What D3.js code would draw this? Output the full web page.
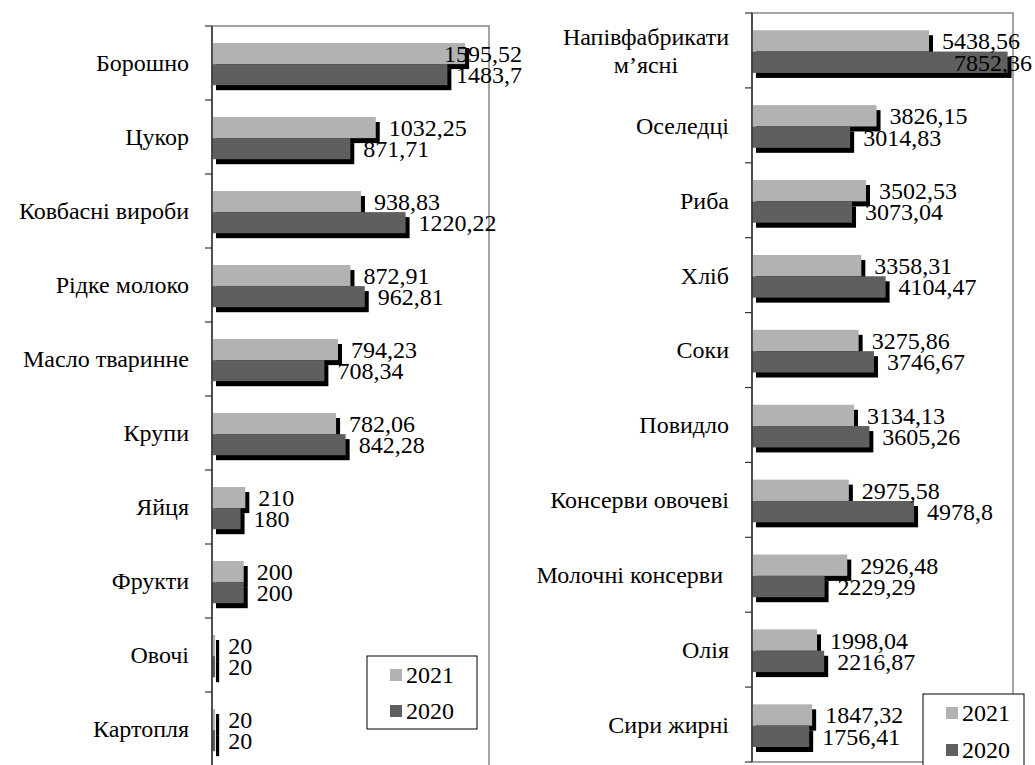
<!DOCTYPE html>
<html>
<head>
<meta charset="utf-8">
<script src="https://cdn.jsdelivr.net/npm/d3@7"></script>
<style>
  body { margin: 0; background: #fff; }
  svg text { font-family: Liberation Serif; }
</style>
</head>
<body>
<div id="app"></div>
<script>
// data
const years = ['2021', '2020']

const leftCats = ['Борошно', 'Цукор', 'Ковбасні вироби', 'Рідке молоко', 'Масло тваринне',
  'Крупи', 'Яйця', 'Фрукти', 'Овочі', 'Картопля']
const left2021 = [1595.52, 1032.25, 938.83, 872.91, 794.23, 782.06, 210, 200, 20, 20]
const left2020 = [1483.7, 871.71, 1220.22, 962.81, 708.34, 842.28, 180, 200, 20, 20]

const rightCats = ['Напівфабрикати\nм’ясні', 'Оселедці', 'Риба', 'Хліб', 'Соки', 'Повидло',
  'Консерви овочеві', 'Молочні консерви\u00a0', 'Олія', 'Сири жирні']
const right2021 = [5438.56, 3826.15, 3502.53, 3358.31, 3275.86, 3134.13, 2975.58, 2926.48, 1998.04, 1847.32]
const right2020 = [7852.36, 3014.83, 3073.04, 4104.47, 3746.67, 3605.26, 4978.8, 2229.29, 2216.87, 1756.41]

const colors = { '2021': '#b2b2b2', '2020': '#5f5f5f' }
const fmt = (v) => String(v).replace('.', ',')
const FONT = 'Liberation Serif'

const svg = d3.select('#app').append('svg')
  .attr('width', 1035).attr('height', 765)
  .attr('font-family', FONT)

// draws one bar panel
function panel(cats, s2021, s2020, opt) {
  const g = svg.append('g')

  const x = d3.scaleLinear().domain([0, opt.max]).range([opt.x0, opt.x1])
  const y = d3.scaleBand().domain(cats).range([opt.y0, opt.y1])
  const bw = y.bandwidth()
  const ys = d3.scaleBand().domain(years).range([bw * 0.23, bw * 0.8])

  const rows = cats.map((c, i) => ({ cat: c, '2021': s2021[i], '2020': s2020[i] }))

  // plot border
  g.append('rect')
    .attr('x', opt.x0).attr('y', opt.y0)
    .attr('width', opt.x1 - opt.x0).attr('height', opt.y1 - opt.y0)
    .attr('fill', 'none').attr('stroke', '#868686').attr('stroke-width', 1.5)

  // bars with black drop shadow
  years.forEach((yr) => {
    const bars = g.append('g').selectAll('g').data(rows).join('g')
      .attr('transform', (d) => `translate(0,${y(d.cat) + ys(yr)})`)
    bars.append('rect')
      .attr('x', x(0) + 4).attr('y', 5)
      .attr('width', (d) => x(d[yr]) - x(0))
      .attr('height', ys.bandwidth())
      .attr('fill', '#000')
    bars.append('rect')
      .attr('x', x(0)).attr('y', 0)
      .attr('width', (d) => x(d[yr]) - x(0))
      .attr('height', ys.bandwidth())
      .attr('fill', colors[yr])
  })

  // value labels, pushed back left if they'd run off the chart
  years.forEach((yr) => {
    g.append('g').selectAll('text').data(rows).join('text')
      .attr('y', (d) => y(d.cat) + ys(yr) + ys.bandwidth() / 2)
      .attr('dy', '0.35em')
      .attr('font-family', FONT)
      .attr('font-size', 24)
      .text((d) => fmt(d[yr]))
      .attr('x', function (d) {
        const w = this.getComputedTextLength()
        return Math.min(x(d[yr]) + 13, opt.labelLimit - w)
      })
  })

  // value axis line and ticks at band edges
  g.append('line')
    .attr('x1', opt.x0).attr('x2', opt.x0)
    .attr('y1', opt.y0).attr('y2', opt.y1)
    .attr('stroke', '#333').attr('stroke-width', 1.5)
  const edges = cats.map((c) => y(c)).concat([opt.y1])
  g.append('g').selectAll('line').data(edges).join('line')
    .attr('x1', opt.x0 - 7).attr('x2', opt.x0)
    .attr('y1', (d) => d).attr('y2', (d) => d)
    .attr('stroke', '#333').attr('stroke-width', 1.2)

  // category labels
  const labels = g.append('g').selectAll('text').data(cats).join('text')
    .attr('font-family', FONT)
    .attr('font-size', 24)
    .attr('text-anchor', 'middle')
  labels.each(function (c) {
    const t = d3.select(this)
    const lines = c.split('\n')
    const cy = y(c) + bw / 2
    const spans = lines.map((ln, i) => t.append('tspan')
      .attr('y', cy + (i - (lines.length - 1) / 2) * 28)
      .attr('dy', '0.35em')
      .text(ln))
    const w = d3.max(spans, (s) => s.node().getComputedTextLength())
    spans.forEach((s) => s.attr('x', opt.x0 - 23 - w / 2))
  })

  // legend
  const lg = g.append('g')
  lg.append('rect')
    .attr('x', opt.lx).attr('y', opt.ly)
    .attr('width', opt.lw).attr('height', opt.lh)
    .attr('fill', '#fff').attr('stroke', '#000').attr('stroke-width', 1)
  years.forEach((yr, i) => {
    lg.append('rect')
      .attr('x', opt.lx + 23).attr('y', opt.ly + 13 + i * opt.lstep)
      .attr('width', 12).attr('height', 12)
      .attr('fill', colors[yr])
    lg.append('text')
      .attr('x', opt.lx + 39).attr('y', opt.ly + 19 + i * opt.lstep)
      .attr('dy', '0.35em')
      .attr('font-family', FONT)
      .attr('font-size', 24)
      .text(yr)
  })
}

panel(leftCats, left2021, left2020, {
  max: 1746, x0: 212, x1: 489, y0: 26, y1: 766, labelLimit: 522,
  lx: 367, ly: 656, lw: 110, lh: 73, lstep: 36
})

panel(rightCats, right2021, right2020, {
  max: 8018, x0: 752, x1: 1013, y0: 13, y1: 762, labelLimit: 1032,
  lx: 923, ly: 694, lw: 101, lh: 80, lstep: 37
})
</script>
</body>
</html>
